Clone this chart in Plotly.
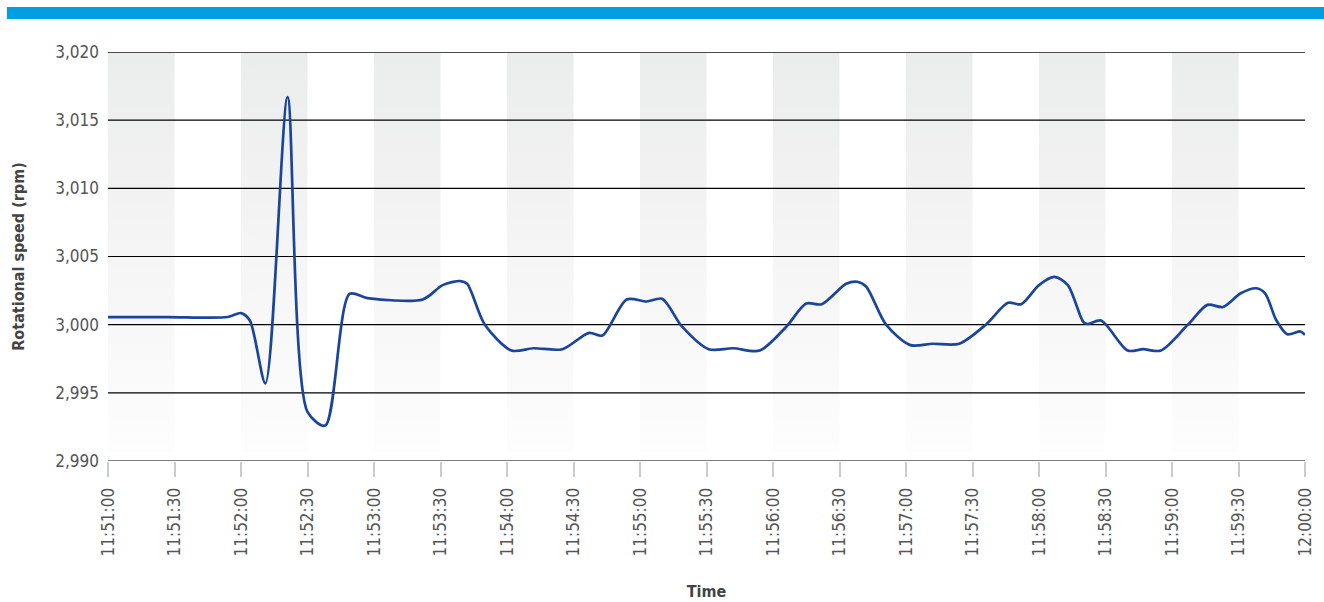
import plotly.graph_objects as go

# Rotational speed samples, 11:51:00 - 12:00:00
times = ["11:51:00", "11:51:27", "11:51:54", "11:52:00", "11:52:04", "11:52:11", "11:52:21",
         "11:52:30", "11:52:38", "11:52:49", "11:52:57", "11:53:22", "11:53:31",
         "11:53:39", "11:53:42", "11:53:50", "11:54:02", "11:54:12", "11:54:25",
         "11:54:37", "11:54:43", "11:54:54", "11:55:03", "11:55:10", "11:55:19",
         "11:55:31", "11:55:42", "11:55:54", "11:56:06", "11:56:15", "11:56:22",
         "11:56:33", "11:56:38", "11:56:42", "11:56:51", "11:57:02", "11:57:12",
         "11:57:24", "11:57:36", "11:57:46", "11:57:52", "11:58:00", "11:58:07",
         "11:58:13", "11:58:20", "11:58:22", "11:58:28", "11:58:40", "11:58:47",
         "11:58:55", "11:59:07", "11:59:16", "11:59:23", "11:59:31", "11:59:38",
         "11:59:42", "11:59:47", "11:59:52", "11:59:58", "12:00:00"]
speed = [3000.56, 3000.56, 3000.56, 3000.85, 3000.3, 2995.7, 3016.7,
         2993.6, 2992.6, 3002.25, 3001.95, 3001.85, 3002.9,
         3003.2, 3003.0, 3000.0, 2998.1, 2998.27, 2998.2,
         2999.4, 2999.2, 3001.85, 3001.7, 3001.9, 2999.85,
         2998.2, 2998.27, 2998.1, 2999.85, 3001.55, 3001.5,
         3003.0, 3003.15, 3002.8, 3000.0, 2998.5, 2998.6,
         2998.6, 3000.0, 3001.6, 3001.5, 3002.9, 3003.5,
         3002.9, 3000.2, 3000.05, 3000.3, 2998.1, 2998.2,
         2998.1, 2999.97, 3001.45, 3001.3, 3002.3, 3002.67,
         3002.3, 3000.34, 2999.3, 2999.5, 2999.25]

tick_times = ["11:51:00", "11:51:30", "11:52:00", "11:52:30", "11:53:00",
              "11:53:30", "11:54:00", "11:54:30", "11:55:00", "11:55:30",
              "11:56:00", "11:56:30", "11:57:00", "11:57:30", "11:58:00",
              "11:58:30", "11:59:00", "11:59:30", "12:00:00"]
y_ticks = [2990, 2995, 3000, 3005, 3010, 3015, 3020]

DAY = "2024-01-01 "
x = [DAY + t for t in times]
ticks = [DAY + t for t in tick_times]

FONT = "DejaVu Sans Condensed, DejaVu Sans, sans-serif"

W, H = 1324, 602
ML, MR, MT, MB = 108, 19, 52, 141
PW, PH = W - ML - MR, H - MT - MB

fig = go.Figure()

# shaded background bands on every other 30-second interval
band_x, band_y = [], []
band_bottom, band_top = 2990.65, 3020
for i in range(0, len(ticks) - 1, 2):
    a, b = ticks[i], ticks[i + 1]
    band_x += [a, b, b, a, a, None]
    band_y += [band_bottom, band_bottom, band_top, band_top, band_bottom, None]

fig.add_trace(go.Scatter(
    x=band_x, y=band_y, mode="none", fill="toself",
    fillgradient=dict(type="vertical", start=band_bottom, stop=band_top,
                      colorscale=[[0, "#fdfdfd"], [0.5, "#f5f5f5"], [1, "#ebecec"]]),
    hoverinfo="skip", showlegend=False))

# horizontal grid lines, drawn over the bands
grid_x, grid_y = [], []
for v in y_ticks[:-1]:
    grid_x += [ticks[0], ticks[-1], None]
    grid_y += [v, v, None]
fig.add_trace(go.Scatter(
    x=grid_x, y=grid_y, mode="lines", line=dict(color="#000000", width=1.2),
    hoverinfo="skip", showlegend=False))
fig.add_trace(go.Scatter(
    x=[ticks[0], ticks[-1]], y=[y_ticks[-1], y_ticks[-1]], mode="lines",
    line=dict(color="#4a4a4a", width=1.8), hoverinfo="skip", showlegend=False))

fig.add_trace(go.Scatter(
    x=x, y=speed, mode="lines",
    line=dict(color="#1a459b", width=2.7, shape="spline", smoothing=0.8),
    showlegend=False))

# page-wide accent bar along the top edge (pixel position -> paper coordinates)
bar_x0, bar_x1, bar_top, bar_bot = 7, W, 7, 19

fig.update_layout(
    width=W, height=H,
    margin=dict(l=ML, r=MR, t=MT, b=MB, autoexpand=False),
    paper_bgcolor="white", plot_bgcolor="white",
    font=dict(family=FONT, color="#555555"),
    xaxis=dict(
        type="date", range=[ticks[0], ticks[-1]], automargin=False,
        tickvals=ticks, ticktext=tick_times, tickangle=-90,
        tickfont=dict(size=17, color="#555555"),
        ticks="outside", ticklen=15, tickcolor="#cccccc", tickwidth=1.5,
        ticklabelstandoff=4,
        showgrid=False, zeroline=False, showline=False,
        title=dict(text="<b>Time</b>", font=dict(size=16, color="#444444"), standoff=30),
    ),
    yaxis=dict(
        range=[2990, 3020], tickvals=y_ticks, tickformat=",d", automargin=False,
        tickfont=dict(size=17, color="#555555"),
        showgrid=False, zeroline=False, showline=False, ticks="", ticklabelstandoff=8,
        title=dict(text="<b>Rotational speed (rpm)</b>", font=dict(size=16, color="#444444"),
                   standoff=26),
    ),
    shapes=[dict(type="rect", xref="paper", yref="paper",
                 x0=(bar_x0 - ML) / PW, x1=(bar_x1 - ML) / PW,
                 y0=(H - MB - bar_bot) / PH, y1=(H - MB - bar_top) / PH,
                 fillcolor="#009fe3", line=dict(width=0), layer="above")],
)

fig.write_html("out.html")
